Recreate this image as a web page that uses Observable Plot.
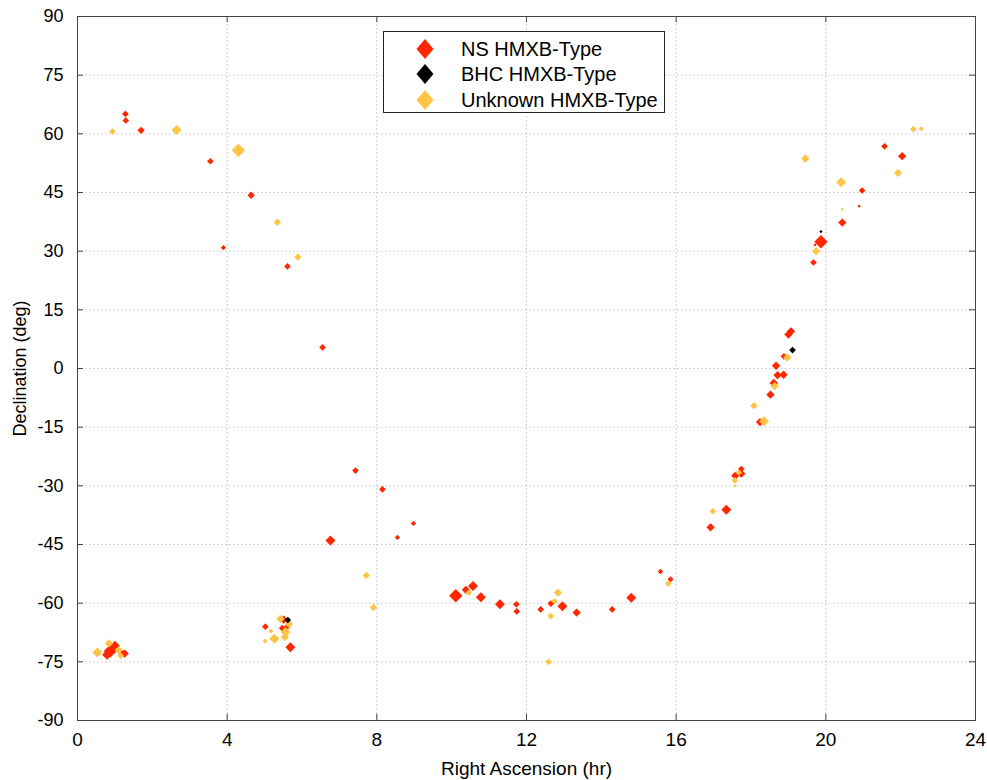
<!DOCTYPE html>
<html>
<head>
<meta charset="utf-8">
<script src="https://cdn.jsdelivr.net/npm/d3@7"></script>
<script src="https://cdn.jsdelivr.net/npm/@observablehq/plot@0.6"></script>
<style>
  html, body { margin: 0; padding: 0; background: #fff; }
  #wrap { position: relative; width: 987px; height: 780px; font-family: "Liberation Sans", Arial, sans-serif; }
  #legend { position: absolute; left: 383px; top: 31px; width: 280px; height: 80px; border: 1px solid #222; background: #fff; }
  .row { position: absolute; left: 0; height: 26px; display: flex; align-items: center; font-size: 20px; color: #000; }
  .row svg { margin-left: 32px; margin-right: 27px; }
</style>
</head>
<body>
<div id="wrap"></div>
<script>
const categories = ["NS HMXB-Type", "BHC HMXB-Type", "Unknown HMXB-Type"];
const colors = ["#ff2600", "#000000", "#ffc445"];
const xTicks = [0, 4, 8, 12, 16, 20, 24];
const yTicks = [-90, -75, -60, -45, -30, -15, 0, 15, 30, 45, 60, 75, 90];

// NS HMXB-Type
const nsRA  = [1.28, 1.29, 1.70, 3.55, 4.64, 3.90, 5.61, 6.55, 7.43, 8.15, 6.76, 8.98, 8.55,
  10.11, 10.38, 10.57, 10.78, 11.29, 11.73, 11.74, 12.38, 12.65, 12.96, 13.34, 14.29, 14.80,
  15.58, 15.85, 16.92, 17.34, 17.58, 17.74, 17.74, 18.24, 18.52, 18.61, 18.71, 18.87, 18.67,
  18.88, 19.00, 19.07, 19.67, 19.71, 19.87, 20.44, 20.89, 20.97, 21.57, 22.04,
  0.88, 1.00, 0.79, 0.95, 1.26, 1.15, 5.02, 5.51, 5.47, 5.60, 5.69];
const nsDec = [65.1, 63.4, 60.9, 53.0, 44.3, 30.9, 26.1, 5.4, -26.1, -30.9, -44.0, -39.6, -43.2,
  -58.1, -56.6, -55.6, -58.5, -60.3, -60.3, -62.1, -61.6, -60.1, -60.8, -62.4, -61.6, -58.6,
  -51.9, -53.9, -40.6, -36.1, -27.4, -25.7, -26.9, -13.7, -6.7, -3.7, -1.7, -1.6, 0.7,
  3.1, 8.7, 9.5, 27.1, 31.6, 32.4, 37.3, 41.5, 45.5, 56.8, 54.3,
  -72.2, -70.9, -73.2, -71.6, -72.9, -72.4, -66.0, -64.2, -66.4, -66.1, -71.3];
const nsSize = [2, 2, 2.2, 2, 2.2, 1.6, 2, 2, 2, 2, 3, 1.6, 1.6,
  4, 2.5, 3, 3, 3, 2, 2, 2, 2, 3, 2.5, 2, 3,
  1.6, 1.8, 2.5, 3, 2.5, 2, 2.5, 2.5, 2.5, 2.5, 2.5, 2.5, 2.5,
  2, 2.5, 2.5, 2, 1, 4, 2.5, 1, 2, 2, 2.5,
  4, 3, 3, 3, 2.5, 2, 2, 2.5, 2, 2, 3];

// BHC HMXB-Type
const bhcRA   = [19.11, 19.87, 5.62];
const bhcDec  = [4.7, 35.0, -64.3];
const bhcSize = [2, 1, 2];

// Unknown HMXB-Type
const unRA  = [0.935, 2.65, 4.30, 5.34, 5.89, 7.72, 7.91, 10.46, 12.75, 12.84, 12.65, 12.59,
  15.79, 16.98, 17.67, 17.57, 17.57, 18.08, 18.35, 18.63, 18.97, 19.45, 19.74, 20.41, 20.44,
  21.93, 22.34, 22.55, 0.53, 0.84, 1.10, 1.15, 5.17, 5.01, 5.26, 5.42, 5.56, 5.54, 5.65];
const unDec = [60.6, 61.0, 55.8, 37.4, 28.5, -52.9, -61.1, -57.3, -59.5, -57.3, -63.3, -75.0,
  -55.0, -36.5, -26.6, -28.6, -30.0, -9.5, -13.5, -4.5, 2.8, 53.7, 30.0, 47.6, 40.7,
  50.0, 61.2, 61.3, -72.6, -70.3, -72.0, -73.4, -67.1, -69.7, -69.1, -64.0, -67.4, -68.7, -65.3];
const unSize = [2, 3, 4, 2.2, 2.2, 2.2, 2.2, 2, 2, 2.5, 2, 2,
  2, 2, 2, 2, 1, 2.2, 3, 2.5, 2.5, 2.5, 2.5, 3, 1,
  2.5, 2, 1.5, 3, 2.5, 2.5, 2, 1.5, 1.5, 3, 2.5, 3, 2.5, 2.5];

const rows = [];
nsRA.forEach((ra, i) => rows.push({ra, dec: nsDec[i], size: nsSize[i], type: categories[0]}));
unRA.forEach((ra, i) => rows.push({ra, dec: unDec[i], size: unSize[i], type: categories[2]}));
bhcRA.forEach((ra, i) => rows.push({ra, dec: bhcDec[i], size: bhcSize[i], type: categories[1]}));

const axisColor = "#444";
const gridStyle = {stroke: "#c4c4c4", strokeOpacity: 1, strokeDasharray: "1.5,2.5"};
const fmt = d => String(d);

const chart = Plot.plot({
  width: 987,
  height: 780,
  marginLeft: 77,
  marginRight: 12,
  marginTop: 16,
  marginBottom: 60,
  style: {fontFamily: "'Liberation Sans', Arial, sans-serif", fontSize: "18px", background: "#fff", color: "#000"},
  x: {domain: [0, 24]},
  y: {domain: [-90, 90]},
  r: {type: "linear", domain: [0, 4], range: [0, 6]},
  color: {domain: categories, range: colors},
  marks: [
    Plot.gridX(xTicks.slice(1, -1), gridStyle),
    Plot.gridY(yTicks.slice(1, -1), gridStyle),
    Plot.ruleX(xTicks, {y1: -90, y2: -88.4, stroke: axisColor}),
    Plot.ruleX(xTicks, {y1: 90, y2: 88.4, stroke: axisColor}),
    Plot.ruleY(yTicks, {x1: 0, x2: 0.16, stroke: axisColor}),
    Plot.ruleY(yTicks, {x1: 24, x2: 23.84, stroke: axisColor}),
    Plot.frame({stroke: axisColor}),
    Plot.axisX({ticks: xTicks, tickFormat: fmt, tickSize: 0, tickPadding: 12, label: "Right Ascension (hr)", labelAnchor: "center", labelArrow: "none", labelOffset: 54, fill: "#000", fontSize: 19}),
    Plot.axisY({ticks: yTicks, tickFormat: fmt, tickSize: 0, tickPadding: 14, label: "Declination (deg)", labelAnchor: "center", labelArrow: "none", labelOffset: 64, fill: "#000"}),
    Plot.dot(rows, {x: "ra", y: "dec", r: "size", fill: "type", symbol: "diamond2", stroke: "none", sort: null})
  ]
});

const wrap = document.getElementById("wrap");
wrap.appendChild(chart);

const legend = document.createElement("div");
legend.id = "legend";
const rowTops = [4, 29, 55];
categories.forEach((c, i) => {
  const row = document.createElement("div");
  row.className = "row";
  row.style.top = rowTops[i] + "px";
  row.innerHTML = `<svg width="18" height="20" viewBox="-9 -10 18 20"><path d="M0,-10L8.5,0L0,10L-8.5,0Z" fill="${colors[i]}"/></svg><span>${c}</span>`;
  legend.appendChild(row);
});
wrap.appendChild(legend);
</script>
</body>
</html>
